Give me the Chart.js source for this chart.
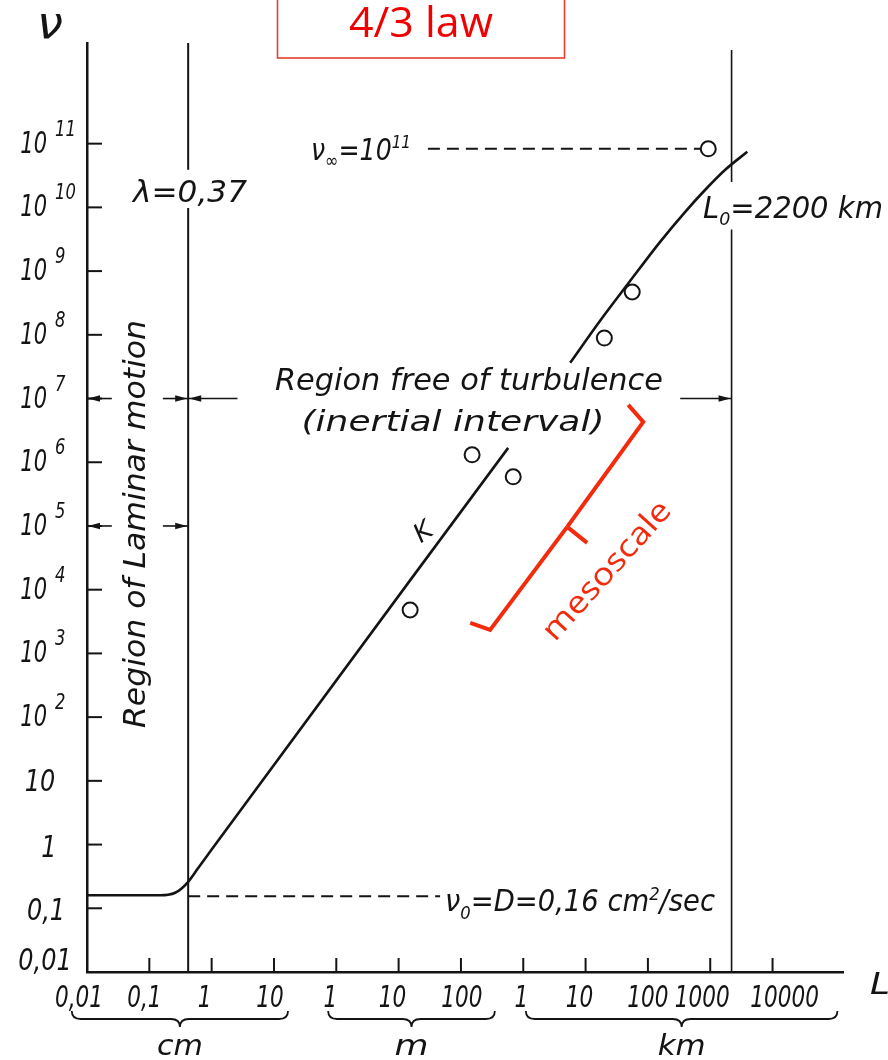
<!DOCTYPE html>
<html><head><meta charset="utf-8">
<script src="https://cdn.jsdelivr.net/npm/chart.js@4.4.1/dist/chart.umd.min.js"></script>
<style>html,body{margin:0;padding:0;background:#fff}#wrap{width:888px;height:1060px;position:relative}</style>
</head><body><div id="wrap"><canvas id="c"></canvas></div>
<script>
// ---- data (x: length L in cm, y: coefficient nu in cm^2/sec) ----
const xTickValues = [0.01, 0.1, 1, 10, 100, 1e3, 1e4, 1e5, 1e6, 1e7, 1e8, 1e9];
const xTickLabels = ['0,01', '0,1', '1', '10', '1', '10', '100', '1', '10', '100', '1000', '10000'];
const yTickValues = [0.01, 0.1, 1, 10, 1e2, 1e3, 1e4, 1e5, 1e6, 1e7, 1e8, 1e9, 1e10, 1e11];
const yTickBases = ['0,01', '0,1', '1', '10', '10', '10', '10', '10', '10', '10', '10', '10', '10', '10'];
const yTickExps = ['', '', '', '', '2', '3', '4', '5', '6', '7', '8', '9', '10', '11'];
const unitNames = ['cm', 'm', 'km'];
const unitFrom = [0.0057, 74, 1.1e5];
const unitTo = [16.8, 3.5e4, 1.1e10];

const curveLowX = [0.01, 0.15, 0.2, 0.26, 0.33, 0.42, 0.6, 1, 57300];
const curveLowY = [0.16, 0.16, 0.163, 0.175, 0.205, 0.26, 0.42, 0.84, 1.68e6];
const curveHighX = [5.66e5, 1.71e6, 4.66e6, 1.57e7, 3.97e7, 8.32e7, 1.74e8, 3.93e8];
const curveHighY = [3.63e7, 1.66e8, 6.09e8, 2.88e9, 8.53e9, 1.89e10, 3.89e10, 7.46e10];
const obsX = [1530, 15100, 69000, 2.0e6, 5.6e6, 9.3e7];
const obsY = [4800, 1.31e6, 5.9e5, 8.9e7, 4.7e8, 8.3e10];

const nuInf = 8.3e10;          // nu_infinity level
const nuInfFrom = 2950, nuInfTo = 6.9e7;
const nu0 = 0.155;             // nu_0 = D
const nu0From = 0.42, nu0To = 4630;
const lambdaL = 0.42;          // lambda line
const lambdaY = [3.8e12, 3.9e10, null, 9.8e9, 0.01];
const L0 = 2.2e8;              // L0 line
const L0Y = [2.95e12, 2.5e10, null, 4.5e9, 0.01];
const arrowY = [1e7, 1e7, 1e7, 1e7, 1e5, 1e5];
const arrowFrom = [0.025, 0.165, 2.6, 3.3e7, 0.025, 0.165];
const arrowTo = [0.01, lambdaL, lambdaL, L0, 0.01, lambdaL];
const bracketX = [4.83e6, 8.41e6, 5.07e5, 1.06e6, 2.94e4, 1.41e4];
const bracketY = [7.96e6, 4.31e6, 9.68e4, 5.43e4, 2.34e3, 3.01e3];

const pts = (xs, ys) => xs.map((v, i) => ({x: v, y: ys[i]}));
const INK = '#141414';
const RED = '#f42a0c';

function rich(ctx, parts, x, y, o) {
  o = o || {};
  const fam = o.fam || '"DejaVu Sans", sans-serif';
  const style = o.style === undefined ? 'italic ' : o.style;
  let nat = 0;
  const ws = parts.map(p => { ctx.font = style + p[1] + 'px ' + fam; const w = ctx.measureText(p[0]).width; nat += w; return w; });
  const sx = o.w ? o.w / nat : (o.sx || 1);
  ctx.save();
  ctx.translate(x, y);
  if (o.rot) ctx.rotate(o.rot);
  ctx.scale(sx, 1);
  let cx = o.align === 'left' ? 0 : (o.align === 'right' ? -nat : -nat / 2);
  ctx.textBaseline = o.baseline || 'alphabetic';
  ctx.textAlign = 'left';
  ctx.fillStyle = o.color || INK;
  parts.forEach((p, i) => { ctx.font = style + p[1] + 'px ' + fam; ctx.fillText(p[0], cx, p[2] || 0); cx += ws[i]; });
  ctx.restore();
}

const decor = {
  id: 'decor',
  afterDraw(chart) {
    const {ctx, chartArea: a, scales: {x, y}} = chart;
    const X = v => x.getPixelForValue(v), Y = v => y.getPixelForValue(v);
    ctx.save();
    ctx.strokeStyle = INK; ctx.fillStyle = INK; ctx.lineCap = 'butt';
    const seg = (x1, y1, x2, y2) => { ctx.beginPath(); ctx.moveTo(x1, y1); ctx.lineTo(x2, y2); ctx.stroke(); };
    // inward ticks
    ctx.lineWidth = 2;
    yTickValues.forEach((v, i) => { if (i === 0) return; const p = Y(v); seg(a.left, p, a.left + 15, p); });
    xTickValues.forEach((v, i) => { if (i === 0) return; const p = X(v); seg(p, a.bottom, p, a.bottom - 14); });
    // y tick labels
    yTickValues.forEach((v, i) => {
      const p = Y(v);
      if (yTickExps[i]) {
        rich(ctx, [[yTickBases[i], 30]], 47, p + 9, {align: 'right', sx: 0.7});
        rich(ctx, [[yTickExps[i], 21]], 55, p - 8, {align: 'left', sx: 0.78});
      } else {
        const c = [45, 46, 49, 40][i];
        const b = [-2, 12, 12, 10][i];
        rich(ctx, [[yTickBases[i], 30]], c, p + b, {sx: 0.8});
      }
    });
    // x tick labels
    const shift = [-8, -5, -7, -4, -6, -6, 1, -2, -6, 0, -8, 12];
    xTickValues.forEach((v, i) => rich(ctx, [[xTickLabels[i], 30]], X(v) + shift[i], 1007, {sx: 0.72}));
    // unit braces
    ctx.lineWidth = 1.8;
    unitNames.forEach((n, i) => {
      const x1 = X(unitFrom[i]), x2 = X(unitTo[i]), m = (x1 + x2) / 2, t = 1011, h = 8, r = 9;
      ctx.beginPath(); ctx.moveTo(x1, t);
      ctx.quadraticCurveTo(x1, t + h, x1 + r, t + h); ctx.lineTo(m - r, t + h);
      ctx.quadraticCurveTo(m, t + h, m, t + h + 8);
      ctx.quadraticCurveTo(m, t + h, m + r, t + h); ctx.lineTo(x2 - r, t + h);
      ctx.quadraticCurveTo(x2, t + h, x2, t); ctx.stroke();
      rich(ctx, [[n, 28]], m, 1055, {w: [46, 34, 48][i]});
    });
    // arrows
    ctx.lineWidth = 1.6;
    arrowY.forEach((v, i) => {
      const py = Y(v), x1 = X(arrowFrom[i]), x2 = X(arrowTo[i]), d = Math.sign(x2 - x1);
      seg(x1, py, x2, py);
      ctx.beginPath(); ctx.moveTo(x2 - d, py); ctx.lineTo(x2 - d * 13, py - 3.2); ctx.lineTo(x2 - d * 13, py + 3.2); ctx.closePath(); ctx.fill();
    });
    // texts
    rich(ctx, [['ν', 44]], 50, 38, {w: 26});
    rich(ctx, [['L', 30]], 880, 994, {w: 20});
    rich(ctx, [['λ=0,37', 30]], 190, 202, {w: 114});
    rich(ctx, [['ν', 30], ['∞', 19, 7], ['=10', 30], ['11', 18, -12]], 311, 160, {align: 'left', w: 100});
    rich(ctx, [['L', 30], ['0', 18, 7], ['=2200 km', 30]], 703, 218, {align: 'left', w: 180});
    rich(ctx, [['Region free of turbulence', 31]], 469, 390, {w: 388});
    rich(ctx, [['(inertial interval)', 29]], 453, 431, {w: 303});
    rich(ctx, [['Region of Laminar motion', 31]], 145, 524, {w: 408, rot: -Math.PI / 2});
    rich(ctx, [['K', 26]], 424, 533, {baseline: 'middle', rot: -0.6});
    rich(ctx, [['ν', 30], ['0', 18, 8], ['=D=0,16 cm', 30], ['2', 18, -11], ['/sec', 30]], 445, 911, {align: 'left', w: 270});
    // red annotations
    ctx.strokeStyle = '#e4402e'; ctx.lineWidth = 1.6;
    ctx.strokeRect(277.5, -5, 287, 63);
    rich(ctx, [['4/3 law', 42]], 421, 37, {fam: '"Open Sans", sans-serif', style: '', w: 144, color: '#f00000'});
    ctx.strokeStyle = RED; ctx.lineWidth = 4; ctx.lineJoin = 'miter';
    const bp = bracketX.map((v, i) => [X(v), Y(bracketY[i])]);
    const poly = idx => { ctx.beginPath(); idx.forEach((k, j) => j ? ctx.lineTo(bp[k][0], bp[k][1]) : ctx.moveTo(bp[k][0], bp[k][1])); ctx.stroke(); };
    poly([0, 1, 2]); poly([2, 3]); poly([2, 4, 5]);
    rich(ctx, [['mesoscale', 31]], 614, 577, {fam: '"Open Sans", sans-serif', style: '', w: 176, rot: -48 * Math.PI / 180, color: RED});
    ctx.restore();
  }
};

const lineDs = (data, extra) => Object.assign({data, showLine: true, borderColor: INK, borderWidth: 2.6, pointRadius: 0, fill: false}, extra || {});

new Chart(document.getElementById('c'), {
  type: 'scatter',
  data: {datasets: [
    lineDs(pts(curveLowX, curveLowY), {cubicInterpolationMode: 'monotone'}),
    lineDs(pts(curveHighX, curveHighY), {cubicInterpolationMode: 'monotone'}),
    lineDs([{x: nuInfFrom, y: nuInf}, {x: nuInfTo, y: nuInf}], {borderDash: [12, 7], borderWidth: 2}),
    lineDs([{x: nu0From, y: nu0}, {x: nu0To, y: nu0}], {borderDash: [12, 7], borderWidth: 2}),
    lineDs(lambdaY.map(v => ({x: lambdaL, y: v})), {borderWidth: 2, spanGaps: false}),
    lineDs(L0Y.map(v => ({x: L0, y: v})), {borderWidth: 1.6, spanGaps: false}),
    {data: pts(obsX, obsY), showLine: false, pointRadius: 7.5, radius: 7.5, pointBorderWidth: 2, borderWidth: 2,
     pointBackgroundColor: '#fff', backgroundColor: '#fff', pointBorderColor: INK, borderColor: INK}
  ]},
  options: {
    responsive: true, maintainAspectRatio: false, animation: false, devicePixelRatio: 1,
    layout: {padding: {left: 87, right: 45, top: 43, bottom: 88}},
    plugins: {legend: {display: false}, tooltip: {enabled: false}},
    scales: {
      x: {type: 'logarithmic', min: 0.01, max: 1.35e10, ticks: {display: false},
          grid: {display: false, drawTicks: false}, border: {display: true, color: INK, width: 2.5}},
      y: {type: 'logarithmic', min: 0.01, max: 3.8e12, ticks: {display: false},
          grid: {display: false, drawTicks: false}, border: {display: true, color: INK, width: 2.5}}
    }
  },
  plugins: [decor]
});
</script></body></html>
